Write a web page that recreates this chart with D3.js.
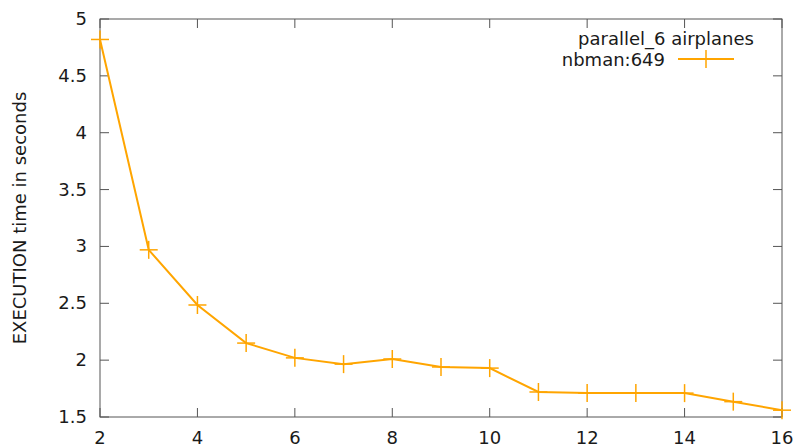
<!DOCTYPE html>
<html>
<head>
<meta charset="utf-8">
<script src="https://cdn.jsdelivr.net/npm/d3@7"></script>
<style>
body { margin: 0; background: #fff; }
svg text { font-family: "DejaVu Sans", sans-serif; font-size: 18px; fill: #1a1a1a; }
</style>
</head>
<body>
<div id="chart"></div>
<script>
//Data
var threads = [2, 3, 4, 5, 6, 7, 8, 9, 10, 11, 12, 13, 14, 15, 16];
var seconds = [4.82, 2.97, 2.485, 2.15, 2.02, 1.965, 2.01, 1.94, 1.93, 1.72, 1.71, 1.71, 1.71, 1.635, 1.56];
var xTicks = [2, 4, 6, 8, 10, 12, 14, 16];
var yTicks = [1.5, 2, 2.5, 3, 3.5, 4, 4.5, 5];
var legendTitle = "parallel_6 airplanes";
var seriesName = "nbman:649";
var yLabel = "EXECUTION time in seconds";

var width = 798, height = 445;
var margin = {top: 19, right: 16, bottom: 28, left: 100};
var color = "#ffa500";

var svg = d3.select('#chart').append('svg')
	.attr('width', width)
	.attr('height', height);

var x = d3.scaleLinear().domain([2, 16]).range([margin.left, width - margin.right]);
var y = d3.scaleLinear().domain([1.5, 5]).range([height - margin.bottom, margin.top]);

var tickLen = 9;
var axisColor = "#555";

//Border
svg.append('rect')
	.attr('x', x(2)).attr('y', y(5))
	.attr('width', x(16) - x(2)).attr('height', y(1.5) - y(5))
	.attr('fill', 'none').attr('stroke', axisColor).attr('stroke-width', 1);

//Ticks (gnuplot style, inward, mirrored)
var g = svg.append('g').attr('class', 'ticks').attr('stroke', axisColor);
xTicks.forEach(function(t) {
	g.append('line').attr('x1', x(t)).attr('x2', x(t))
		.attr('y1', y(1.5)).attr('y2', y(1.5) - tickLen);
	g.append('line').attr('x1', x(t)).attr('x2', x(t))
		.attr('y1', y(5)).attr('y2', y(5) + tickLen);
});
yTicks.forEach(function(t) {
	g.append('line').attr('x1', x(2)).attr('x2', x(2) + tickLen)
		.attr('y1', y(t)).attr('y2', y(t));
	g.append('line').attr('x1', x(16)).attr('x2', x(16) - tickLen)
		.attr('y1', y(t)).attr('y2', y(t));
});

//Tick labels (the reference crops these at the bottom edge)
svg.append('g').selectAll('text')
	.data(xTicks).enter().append('text')
	.attr('x', function(d){return x(d);})
	.attr('y', height - 1)
	.attr('text-anchor', 'middle')
	.text(function(d){return d;});

svg.append('g').selectAll('text')
	.data(yTicks).enter().append('text')
	.attr('x', x(2) - 13)
	.attr('y', function(d){return y(d) + 6;})
	.attr('text-anchor', 'end')
	.text(function(d){return d;});

//Axis label
svg.append('text')
	.attr('transform', 'translate(26,' + ((y(1.5) + y(5)) / 2) + ') rotate(-90)')
	.attr('text-anchor', 'middle')
	.text(yLabel);

//Series line
var line = d3.line()
	.x(function(d){return x(d[0]);})
	.y(function(d){return y(d[1]);});
var pts = threads.map(function(t, i){return [t, seconds[i]];});

svg.append('path')
	.datum(pts)
	.attr('d', line)
	.attr('fill', 'none')
	.attr('stroke', color)
	.attr('stroke-width', 2);

//Plus markers
var m = 9;
function plus(sel) {
	sel.append('line').attr('x1', -m).attr('x2', m).attr('y1', 0).attr('y2', 0);
	sel.append('line').attr('x1', 0).attr('x2', 0).attr('y1', -m).attr('y2', m);
}
svg.append('g')
	.attr('stroke', color).attr('stroke-width', 1.5)
	.selectAll('g').data(pts).enter().append('g')
	.attr('transform', function(d){return 'translate(' + x(d[0]) + ',' + y(d[1]) + ')';})
	.call(plus);

//Legend
svg.append('text')
	.attr('x', 666).attr('y', 45)
	.attr('text-anchor', 'middle')
	.text(legendTitle);
svg.append('text')
	.attr('x', 665).attr('y', 66)
	.attr('text-anchor', 'end')
	.text(seriesName);
svg.append('line')
	.attr('x1', 678).attr('x2', 734).attr('y1', 59).attr('y2', 59)
	.attr('stroke', color).attr('stroke-width', 2);
svg.append('g')
	.attr('stroke', color).attr('stroke-width', 1.5)
	.attr('transform', 'translate(706,59)')
	.call(plus);
</script>
</body>
</html>
